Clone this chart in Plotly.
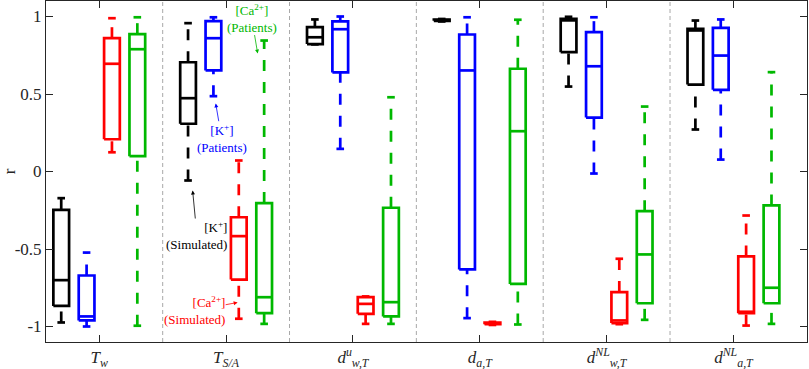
import plotly.graph_objects as go

groups = ["<i>T</i><sub><i>w</i></sub>",
          "<i>T</i><sub><i>S/A</i></sub>",
          "<i>d</i><sup><i>u</i></sup><sub><i>w,T</i></sub>",
          "<i>d</i><sub><i>a,T</i></sub>",
          "<i>d</i><sup><i>NL</i></sup><sub><i>w,T</i></sub>",
          "<i>d</i><sup><i>NL</i></sup><sub><i>a,T</i></sub>"]

series_names = ["[K+] Simulated", "[K+] Patients", "[Ca2+] Simulated", "[Ca2+] Patients"]
series_colors = ["#000000", "#0000ff", "#ff0000", "#00b800"]

# black: [K+] simulated
k_sim_lw  = [-0.974, -0.058, 0.820, 0.968, 0.548, 0.271]
k_sim_q1  = [-0.867, 0.308, 0.822, 0.972, 0.770, 0.561]
k_sim_med = [-0.701, 0.473, 0.866, 0.976, 0.975, 0.910]
k_sim_q3  = [-0.247, 0.705, 0.931, 0.980, 0.985, 0.920]
k_sim_uw  = [-0.172, 0.957, 0.981, 0.984, 0.998, 0.974]

# blue: [K+] patients
k_pat_lw  = [-1.000, 0.486, 0.146, -0.946, -0.013, 0.077]
k_pat_q1  = [-0.961, 0.652, 0.639, -0.632, 0.348, 0.527]
k_pat_med = [-0.935, 0.860, 0.918, 0.652, 0.679, 0.748]
k_pat_q3  = [-0.671, 0.970, 0.968, 0.884, 0.899, 0.927]
k_pat_uw  = [-0.523, 0.995, 1.000, 0.995, 0.995, 0.981]

# red: [Ca2+] simulated
ca_sim_lw  = [0.124, -0.950, -0.983, -0.990, -0.985, -0.994]
ca_sim_q1  = [0.208, -0.697, -0.918, -0.985, -0.978, -0.914]
ca_sim_med = [0.695, -0.417, -0.854, -0.980, -0.961, -0.905]
ca_sim_q3  = [0.860, -0.295, -0.811, -0.975, -0.778, -0.548]
ca_sim_uw  = [0.989, 0.071, -0.806, -0.970, -0.563, -0.284]

# green: [Ca2+] patients
ca_pat_lw  = [-0.995, -0.983, -0.983, -0.987, -0.957, -0.983]
ca_pat_q1  = [0.099, -0.914, -0.935, -0.725, -0.850, -0.850]
ca_pat_med = [0.789, -0.811, -0.843, 0.260, -0.535, -0.750]
ca_pat_q3  = [0.886, -0.204, -0.234, 0.663, -0.256, -0.219]
ca_pat_uw  = [0.995, 0.845, 0.479, 0.979, 0.419, 0.641]

stats = [
    (k_sim_lw, k_sim_q1, k_sim_med, k_sim_q3, k_sim_uw),
    (k_pat_lw, k_pat_q1, k_pat_med, k_pat_q3, k_pat_uw),
    (ca_sim_lw, ca_sim_q1, ca_sim_med, ca_sim_q3, ca_sim_uw),
    (ca_pat_lw, ca_pat_q1, ca_pat_med, ca_pat_q3, ca_pat_uw),
]

offsets = [-0.3, -0.1, 0.1, 0.3]
half_w = 0.062
cap_w = 0.03
lw_px = 2.7

fig = go.Figure()

for s, (lw, q1, med, q3, uw) in enumerate(stats):
    col = series_colors[s]
    bx, by, mx, my, wx, wy, cx, cy = [], [], [], [], [], [], [], []
    for g in range(len(groups)):
        xc = g + 1 + offsets[s]
        bx += [xc - half_w, xc + half_w, xc + half_w, xc - half_w, xc - half_w, None]
        by += [q1[g], q1[g], q3[g], q3[g], q1[g], None]
        mx += [xc - half_w, xc + half_w, None]
        my += [med[g], med[g], None]
        wx += [xc, xc, None, xc, xc, None]
        wy += [q3[g], uw[g], None, lw[g], q1[g], None]
        cx += [xc - cap_w, xc + cap_w, None, xc - cap_w, xc + cap_w, None]
        cy += [uw[g], uw[g], None, lw[g], lw[g], None]
    fig.add_trace(go.Scatter(x=wx, y=wy, mode="lines", name=series_names[s],
                             line=dict(color=col, width=lw_px, dash="11px,11px"),
                             showlegend=False, hoverinfo="skip"))
    fig.add_trace(go.Scatter(x=cx, y=cy, mode="lines", line=dict(color=col, width=lw_px),
                             showlegend=False, hoverinfo="skip"))
    fig.add_trace(go.Scatter(x=bx, y=by, mode="lines", line=dict(color=col, width=lw_px),
                             showlegend=False, hoverinfo="skip"))
    fig.add_trace(go.Scatter(x=mx, y=my, mode="lines", line=dict(color=col, width=lw_px),
                             showlegend=False, hoverinfo="skip"))

for g in range(len(groups) - 1):
    fig.add_shape(type="line", xref="x", yref="paper", x0=g + 1.5, x1=g + 1.5, y0=0, y1=1,
                  line=dict(color="#a8a8a8", width=1, dash="4px,3px"), layer="below")

ann_font = "Liberation Serif"
annots = [
    ("[Ca<sup>2+</sup>]<br>(Patients)", series_colors[3], 2.249, 0.761, 2.202, 0.99, "center"),
    ("[K<sup>+</sup>]<br>(Patients)", series_colors[1], 1.918, 0.439, 1.965, 0.215, "center"),
    ("[K<sup>+</sup>]<br>(Simulated)", "#000000", 1.736, -0.123, 1.770, -0.413, "right"),
    ("[Ca<sup>2+</sup>]<br>(Simulated)", series_colors[2], 2.091, -0.845, 1.752, -0.897, "right"),
]
for text, col, x, y, ax, ay, al in annots:
    fig.add_annotation(x=x, y=y, ax=ax, ay=ay, axref="x", ayref="y", xref="x", yref="y",
                       text=text, showarrow=True, arrowhead=2, arrowsize=1, arrowwidth=0.8,
                       arrowcolor=col, align=al, borderpad=0,
                       font=dict(family=ann_font, size=13, color=col))

fig.update_layout(
    width=809, height=369,
    margin=dict(l=46, r=2, t=1, b=27),
    plot_bgcolor="white", paper_bgcolor="white",
    font=dict(family="Liberation Serif", size=17, color="#262626"),
    showlegend=False,
)
fig.update_xaxes(range=[0.58, 6.58], tickvals=list(range(1, len(groups) + 1)), ticktext=groups,
                 ticks="inside", ticklen=7, tickcolor="#262626", showline=True, linecolor="#262626",
                 linewidth=1, mirror="ticks", showgrid=False, zeroline=False, automargin=False,
                 ticklabelstandoff=0,
                 tickfont=dict(size=17, color="#262626"))
fig.update_yaxes(range=[-1.1, 1.1], tickvals=[-1, -0.5, 0, 0.5, 1],
                 ticktext=["-1", "-0.5", "0", "0.5", "1"],
                 ticks="inside", ticklen=7, tickcolor="#262626", showline=True, linecolor="#262626",
                 linewidth=1, mirror="ticks", showgrid=False, zeroline=False, automargin=False,
                 title=dict(text="r", standoff=6, font=dict(size=17)))

fig.write_html("out.html", config={"displayModeBar": False},
               post_script="document.body.style.margin='0';document.body.style.padding='0';"
                           "document.documentElement.style.overflow='hidden';")
